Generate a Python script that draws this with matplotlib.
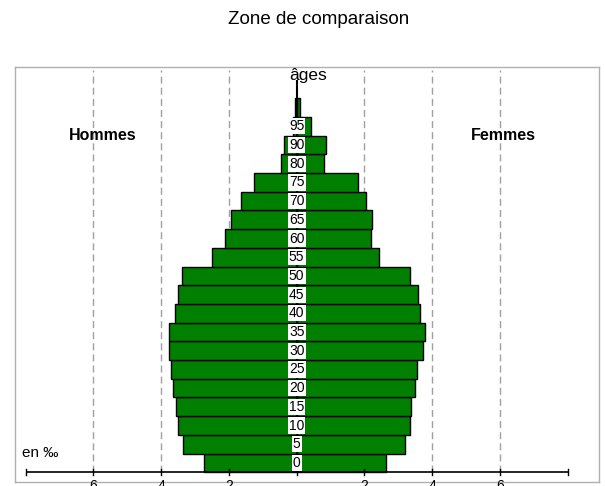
import matplotlib
matplotlib.use('Agg')
import matplotlib.pyplot as plt

plt.rcParams['font.family'] = ['Liberation Sans', 'DejaVu Sans']

# age groups (bottom to top) and shares in per mille
ages = ['0', '5', '10', '15', '20', '25', '30', '35', '40', '45',
        '50', '55', '60', '65', '70', '75', '80', '90', '95', '']
hommes = [2.74, 3.36, 3.51, 3.57, 3.66, 3.70, 3.76, 3.78, 3.58, 3.51,
          3.38, 2.49, 2.12, 1.94, 1.64, 1.27, 0.47, 0.37, 0.10, 0.05]
femmes = [2.63, 3.19, 3.35, 3.38, 3.50, 3.56, 3.73, 3.78, 3.65, 3.59,
          3.35, 2.44, 2.18, 2.22, 2.06, 1.82, 0.81, 0.86, 0.41, 0.10]
ticks = [-8, -6, -4, -2, 0, 2, 4, 6, 8]
tick_labels = ['', '6', '4', '2', '', '2', '4', '6', '']

fig = plt.figure(figsize=(6.05, 4.86), dpi=100)
ax = fig.add_axes([15 / 605, 1 - 482 / 486, 584 / 605, (482 - 66.7) / 486])
ax.set_xlim(-8.31, 8.92)
ax.set_ylim(-0.52, 21.69)
ax.set_xticks([])
ax.set_yticks([])
for s in ax.spines.values():
    s.set_color('#b0b0b0')
    s.set_linewidth(1)

# grid lines
for t in ticks[1:-1]:
    if t != 0:
        ax.vlines(t, 0, 21.5, colors='#a0a0a0', linestyles=(0, (5, 3)), linewidth=1, zorder=1)

y = list(range(len(ages)))
ax.barh(y, [-h for h in hommes], height=1, align='edge', color='#007f00',
        edgecolor='black', linewidth=1, zorder=2)
ax.barh(y, femmes, height=1, align='edge', color='#007f00',
        edgecolor='black', linewidth=1, zorder=2)

# center line and axis
ax.vlines(0, 0, 21, colors='black', linewidth=1.5, zorder=3)
ax.hlines(0, ticks[0], ticks[-1], colors='black', linewidth=1.2, zorder=3)
for t, lab in zip(ticks, tick_labels):
    ax.plot([t, t], [-0.17, 0.17], color='black', linewidth=1, zorder=3, clip_on=False)
    if lab:
        ax.text(t, -0.36, lab, ha='center', va='top', fontsize=10, clip_on=False)

for yi, lab in zip(y, ages):
    if lab:
        ax.text(0, yi + 0.5, lab, ha='center', va='center', fontsize=10, zorder=4,
                bbox=dict(boxstyle='square,pad=0.08', facecolor='white', edgecolor='none'))

ax.text(0.33, 20.98, 'âges', ha='center', va='baseline', fontsize=12.5, zorder=4)
ax.text(-5.71, 18.0, 'Hommes', ha='center', va='center', fontsize=11.5, fontweight='bold')
ax.text(6.11, 18.0, 'Femmes', ha='center', va='center', fontsize=11.5, fontweight='bold')
ax.text(-8.11, 0.82, 'en ‰', ha='left', va='baseline', fontsize=11)

fig.text(319 / 605, 1 - 20 / 486, 'Zone de comparaison', ha='center', va='center', fontsize=13.5)

plt.savefig('out.png', dpi=100)
